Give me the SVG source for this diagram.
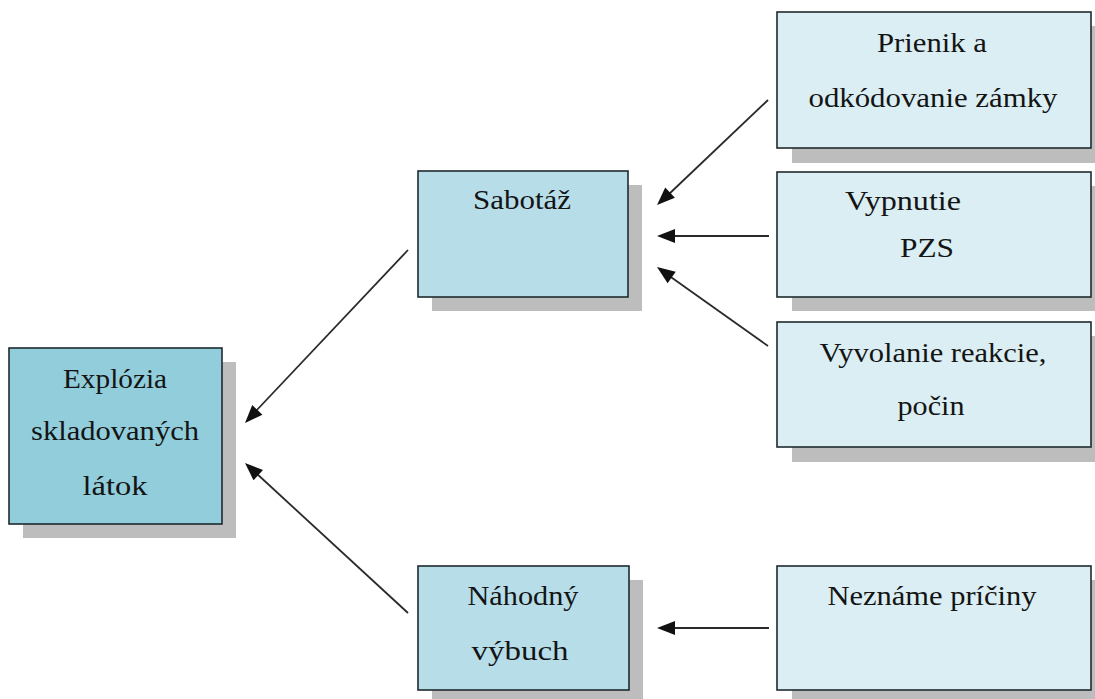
<svg xmlns="http://www.w3.org/2000/svg" width="1095" height="699" viewBox="0 0 1095 699">
<style>
.sh{fill:#bdbdbd}
.bx{stroke:#1e2a2e;stroke-width:1.6}
.c1{fill:#92cddc}
.c2{fill:#b6dde8}
.c3{fill:#daeef3}
.t{font-family:'Liberation Serif','DejaVu Serif',serif;font-size:27px;fill:#141414;text-anchor:middle}
.ln{stroke:#2a2a2a;stroke-width:1.8;fill:none}
.ah{fill:#111}
</style>
<defs>
<path id="head" d="M0,0 L-18,-7 L-18,7 Z"/>
</defs>
<rect width="1095" height="699" fill="#ffffff"/>
<g id="n-explozia">
<rect class="sh" x="23" y="362" width="213" height="176"/>
<rect class="bx c1" x="9" y="348" width="213" height="176"/>
<text class="t" x="115" y="388" textLength="104" lengthAdjust="spacingAndGlyphs">Explózia</text>
<text class="t" x="115" y="440" textLength="168" lengthAdjust="spacingAndGlyphs">skladovaných</text>
<text class="t" x="115" y="495" textLength="65" lengthAdjust="spacingAndGlyphs">látok</text>
</g>
<g id="n-sabotaz">
<rect class="sh" x="432" y="185" width="210" height="126"/>
<rect class="bx c2" x="418" y="171" width="210" height="126"/>
<text class="t" x="522" y="209" textLength="98" lengthAdjust="spacingAndGlyphs">Sabotáž</text>
</g>
<g id="n-nahodny">
<rect class="sh" x="432" y="580" width="211" height="124"/>
<rect class="bx c2" x="418" y="566" width="211" height="124"/>
<text class="t" x="523" y="605" textLength="111" lengthAdjust="spacingAndGlyphs">Náhodný</text>
<text class="t" x="520" y="660" textLength="97" lengthAdjust="spacingAndGlyphs">výbuch</text>
</g>
<g id="n-prienik">
<rect class="sh" x="792" y="26" width="314" height="137"/>
<rect class="bx c3" x="777" y="12" width="314" height="136"/>
<text class="t" x="932" y="52" textLength="110" lengthAdjust="spacingAndGlyphs">Prienik a</text>
<text class="t" x="933" y="107" textLength="249" lengthAdjust="spacingAndGlyphs">odkódovanie zámky</text>
</g>
<g id="n-vypnutie">
<rect class="sh" x="792" y="186" width="314" height="125"/>
<rect class="bx c3" x="777" y="172" width="314" height="125"/>
<text class="t" x="903" y="210" textLength="116" lengthAdjust="spacingAndGlyphs">Vypnutie</text>
<text class="t" x="927" y="257" textLength="54" lengthAdjust="spacingAndGlyphs" fill="#000">PZS</text>
</g>
<g id="n-vyvolanie">
<rect class="sh" x="792" y="336" width="314" height="126"/>
<rect class="bx c3" x="777" y="322" width="314" height="125"/>
<text class="t" x="933" y="362" textLength="227" lengthAdjust="spacingAndGlyphs">Vyvolanie reakcie,</text>
<text class="t" x="931" y="415" textLength="67" lengthAdjust="spacingAndGlyphs">počin</text>
</g>
<g id="n-nezname">
<rect class="sh" x="792" y="580" width="314" height="124"/>
<rect class="bx c3" x="777" y="566" width="314" height="124"/>
<text class="t" x="932" y="605" textLength="209" lengthAdjust="spacingAndGlyphs">Neznáme príčiny</text>
</g>
<g id="connectors">
<line class="ln" x1="768" y1="100" x2="668" y2="195"/>
<use href="#head" class="ah" transform="translate(657,205) rotate(136.5)"/>
<line class="ln" x1="769" y1="236" x2="670" y2="236"/>
<use href="#head" class="ah" transform="translate(657,236) rotate(180)"/>
<line class="ln" x1="768" y1="346" x2="668" y2="275"/>
<use href="#head" class="ah" transform="translate(657,267) rotate(215.4)"/>
<line class="ln" x1="408" y1="250" x2="255" y2="412"/>
<use href="#head" class="ah" transform="translate(245,423) rotate(133.3)"/>
<line class="ln" x1="408" y1="613" x2="256" y2="473"/>
<use href="#head" class="ah" transform="translate(245,463) rotate(222.6)"/>
<line class="ln" x1="769" y1="628" x2="670" y2="628"/>
<use href="#head" class="ah" transform="translate(657,628) rotate(180)"/>
</g>
</svg>
